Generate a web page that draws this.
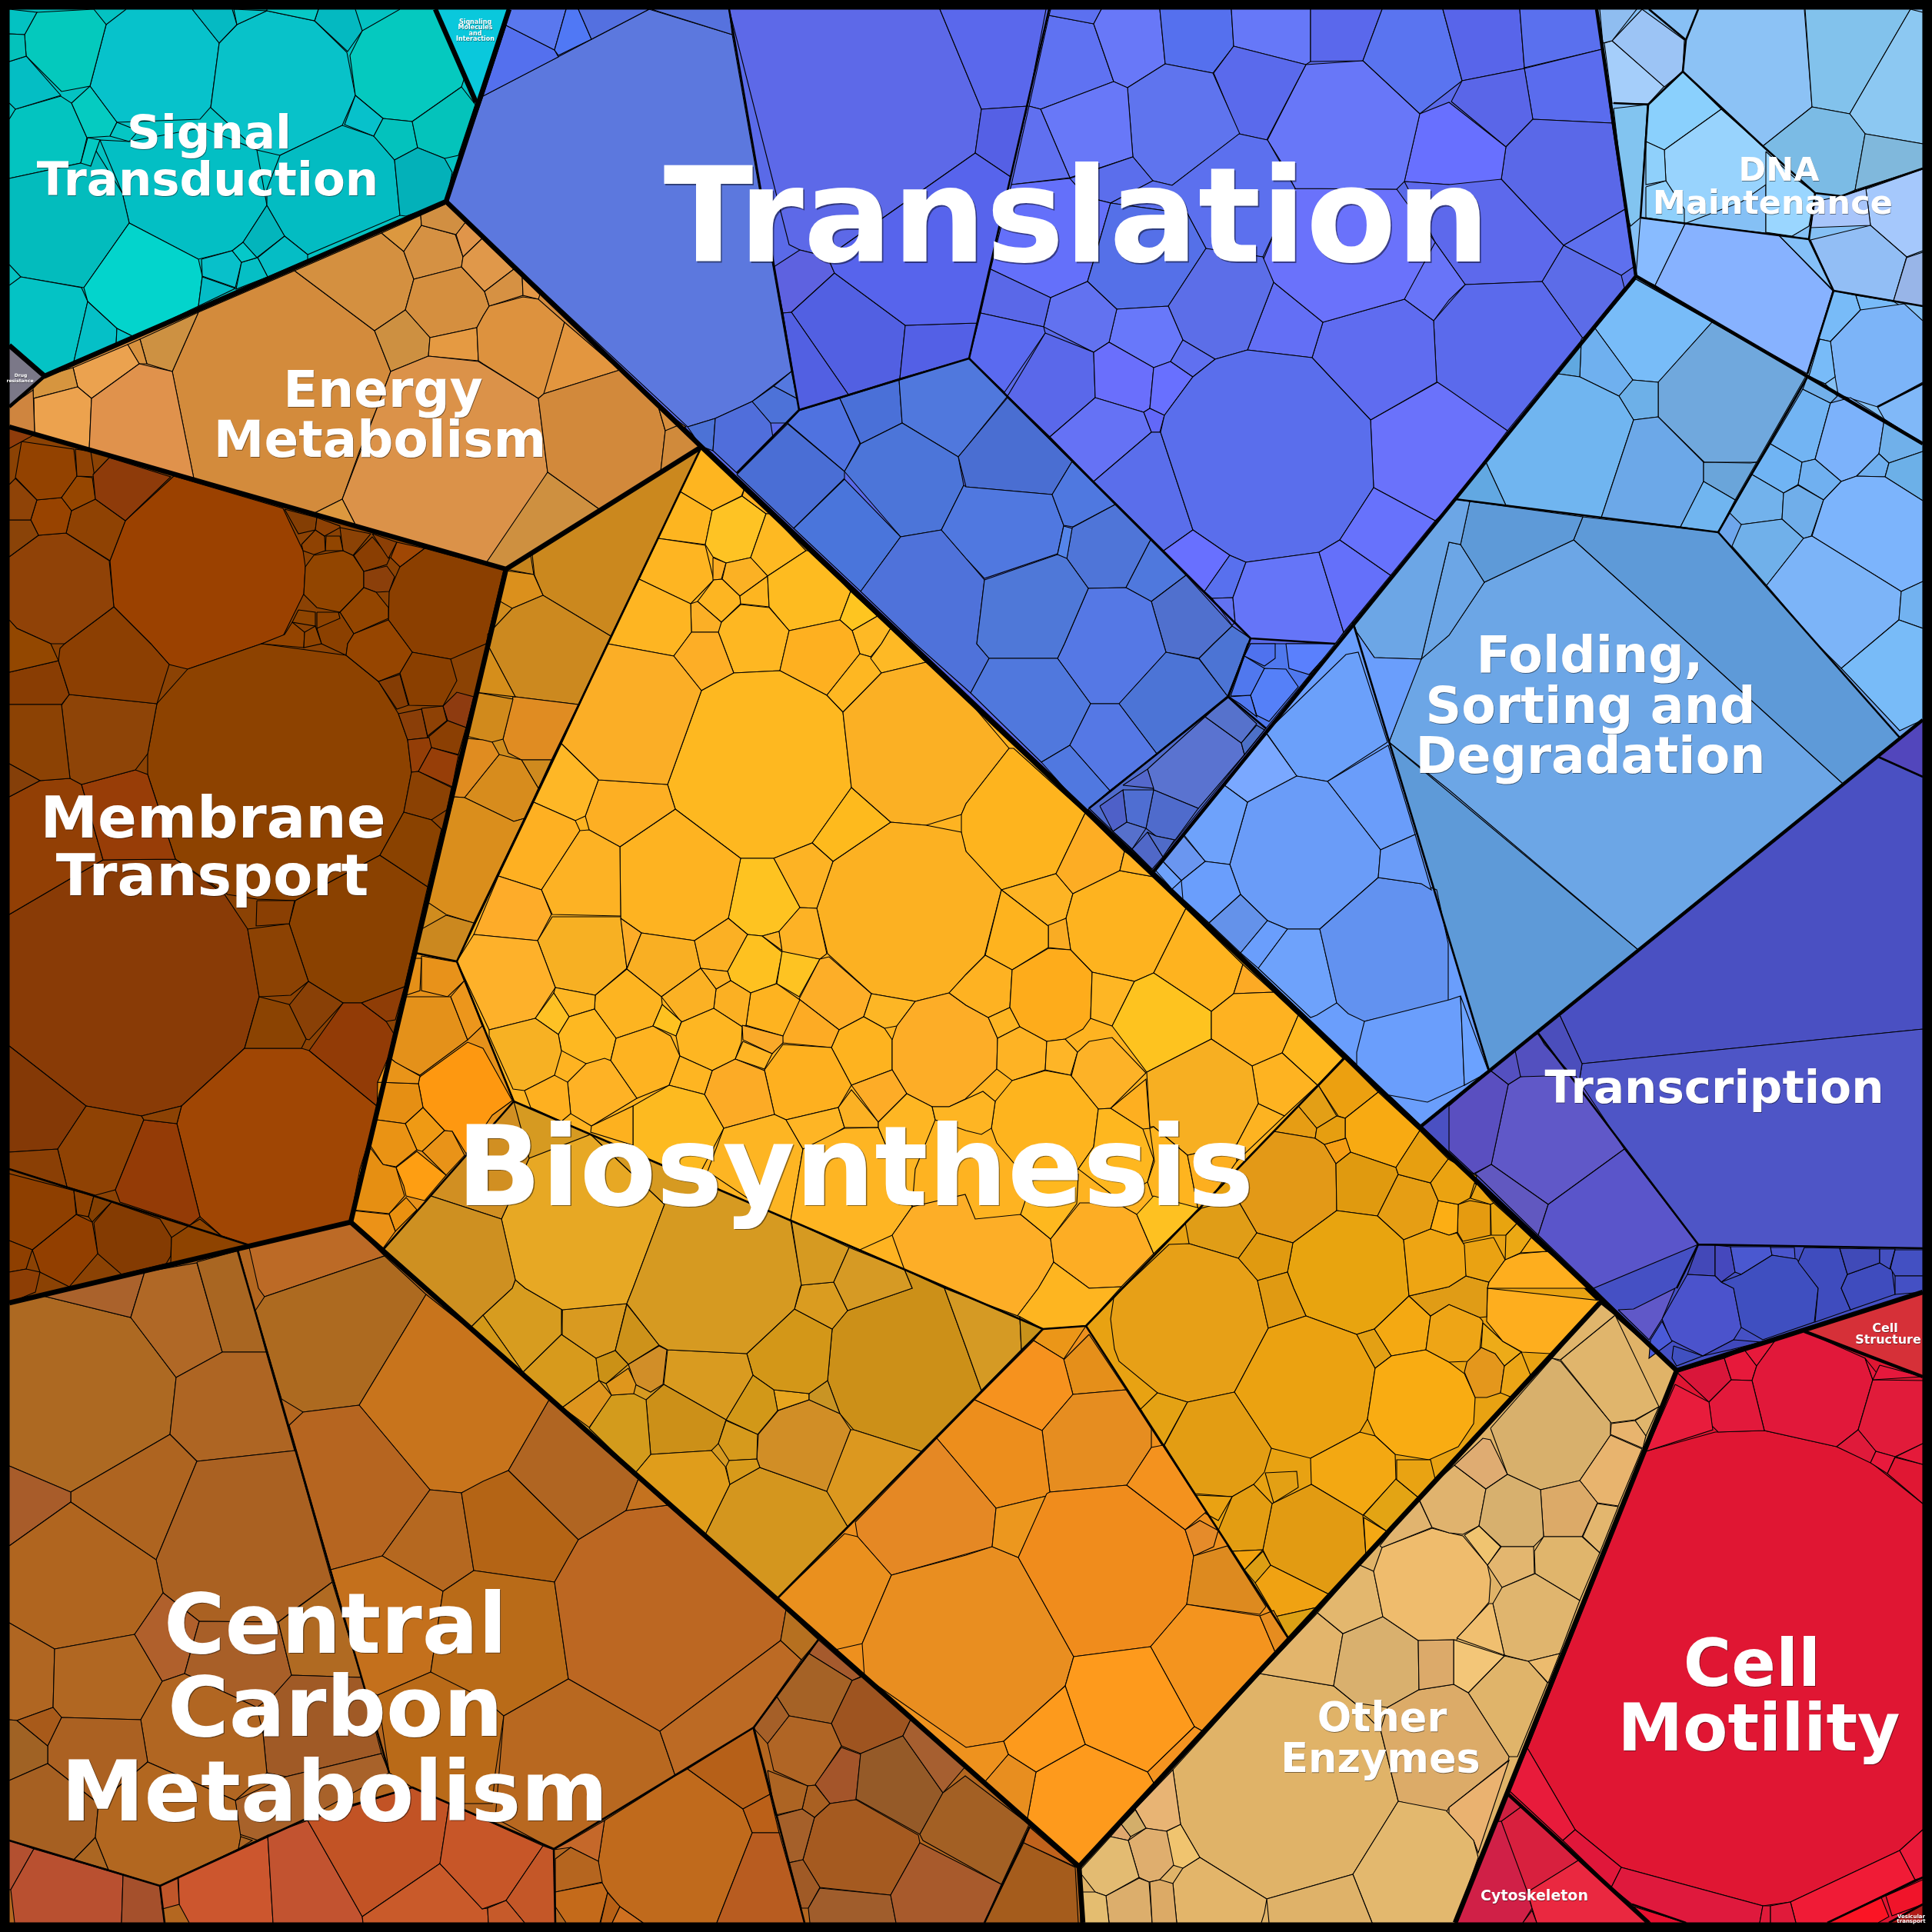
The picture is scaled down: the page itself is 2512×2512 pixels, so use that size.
<!DOCTYPE html>
<html>
<head>
    <title>Proteomap</title>
    <script src='https://cdn.jsdelivr.net/npm/chart.js'></script>
    <style>
        html, body { margin: 0; padding: 0; background: #000; }
        canvas { display: block; }
    </style>
</head>
<body>
    <canvas id="proteomap" width="2512" height="2512"></canvas>
    <script>
        const regionCells = [
            [12,12,566,12,619,133,580,262,58,489,12,449],
            [566,12,662,12,580,262,619,133],
            [12,449,58,489,12,529],
            [12,529,58,489,580,262,912,581,658,740,12,555],
            [12,555,658,740,456,1589,12,1694],
            [912,581,594,1250,540,1239,658,740],
            [540,1239,594,1250,668,1432,498,1625,456,1589],
            [912,581,1748,1376,1412,1724,1356,1728,668,1432,594,1250],
            [668,1432,1356,1728,1010,2079,498,1625],
            [1010,2079,1356,1728,1412,1724,1675,2130,1403,2427],
            [1412,1724,1748,1376,2080,1694,1675,2130],
            [12,1694,456,1589,1403,2427,1408,2500,12,2500],
            [1403,2427,2080,1694,2180,1782,1892,2500,1408,2500],
            [2180,1782,2500,1680,2500,2500,1892,2500],
            [580,262,662,12,2076,12,2127,359,1500,1133],
            [2076,12,2500,12,2500,577,2127,359],
            [2127,359,2500,577,2500,936,1848,1464,1500,1133],
            [1848,1464,2500,936,2500,1680,2180,1782]
        ];
        const regionShades = ['#04c2c2','#0ac8dc','#7b7888','#d48c3e','#8b4204','#d08c1e','#e6911a','#feb321','#d69a21','#ee901e','#e8a212','#b46720','#e0b368','#e01633','#5a6ae8','#85c0f5','#6ea6ec','#4a50c2'];

        const signalCells = [
            [138,32,164,12,250,12,285,56,274,139,260,155,152,159,117,112],
            [308,32,347,14,409,27,451,68,462,124,445,163,364,202,334,195,274,140,285,56],
            [48,16,122,12,138,32,117,112,80,119,34,73,32,45],
            [471,40,520,12,566,12,604,101,600,113,536,158,498,154,462,124,455,72],
            [409,27,414,12,462,12,471,40,452,67],
            [250,12,302,12,308,32,285,56],
            [304,12,347,14,308,32],
            [347,12,414,12,409,27,347,14],
            [20,142,79,125,93,134,113,179,105,212,12,232,12,155],
            [12,80,34,73,79,124,20,142,12,134],
            [12,12,48,16,32,45,12,44],
            [12,44,32,45,34,73,12,80],
            [93,134,117,112,152,159,143,177,113,179],
            [130,182,168,184,264,166,334,195,347,267,316,315,302,326,258,337,168,290,159,251],
            [12,232,105,212,116,182,159,251,168,290,109,374,27,360,12,344],
            [109,374,168,290,258,337,263,359,258,398,174,438,152,427,114,392],
            [27,360,106,374,114,392,96,470,58,489,12,449,12,371],
            [114,392,152,427,151,447,96,470],
            [152,427,174,438,151,447],
            [364,202,445,163,486,177,513,208,520,280,400,331,370,307,347,267,347,246],
            [462,124,498,154,486,177,448,162],
            [498,154,536,158,543,192,513,208,486,177],
            [536,158,600,113,618,136,596,202,578,206,543,192],
            [513,208,543,192,578,206,588,224,580,262,528,281,520,280],
            [347,267,370,307,334,335,316,315],
            [370,307,400,331,400,338,348,360,335,335],
            [262,337,302,326,314,341,306,374,263,359],
            [314,341,335,335,348,360,307,376],
            [263,360,306,375,258,398],
            [302,326,316,315,334,335,314,341],
            [114,179,130,182,118,216,105,212],
            [143,177,152,159,180,170,168,184]
        ];
        const signalShades = ['#07c2cb','#08c2c9','#04c9bd','#05c9bf','#04b9c1','#05bac3','#07c3c7','#07c9c6','#03c4c0','#04bec4','#03c2c2','#04c2bb','#05cbc1','#03bfc4','#03bcbd','#03d4cc','#04c3c5','#05c0c7','#04c3c8','#03bcc2','#07c1cb','#03c2bd','#04c3bb','#03b1b9','#03b5bc','#05bdc5','#08c0ca','#05bfc5','#04bcc6','#05c8c9','#03c9c2','#05c6c4'];

        const energyCells = [
            [258,406,383,352,487,430,508,483,490,531,468,585,445,649,407,668,252,622,224,483],
            [383,352,496,303,525,327,538,363,527,403,487,430],
            [496,303,547,280,548,293,525,327],
            [525,327,548,293,592,305,602,334,600,347,538,363],
            [547,280,580,265,606,288,593,305,548,293],
            [606,288,627,310,602,334,593,305],
            [538,363,600,347,630,379,636,398,628,411,620,426,559,439,527,403],
            [487,430,527,403,559,439,557,463,508,483],
            [559,439,620,426,622,469,557,463],
            [508,483,557,463,622,470,700,518,712,614,640,734,462,682,445,649,490,531],
            [407,668,445,649,462,682],
            [258,406,224,483,191,473,182,441],
            [182,441,191,473,181,473,166,448],
            [166,448,181,473,119,518,101,503,95,478],
            [95,478,101,503,43,518,43,505,58,489],
            [44,518,101,503,119,518,116,584,45,563],
            [119,518,181,473,224,483,252,622,116,584],
            [12,555,12,529,43,507,45,563],
            [600,347,602,334,627,310,668,350,630,379],
            [630,379,668,350,679,360,680,384,636,398],
            [679,360,702,383,700,389,680,384],
            [636,398,680,386,700,389,734,419,708,512,700,518,628,473,622,469,620,426,628,411],
            [734,419,806,481,707,512],
            [707,512,806,481,856,529,865,560,859,613,779,662,712,614,700,518],
            [856,529,892,555,865,560],
            [865,560,882,553,911,581,859,613],
            [712,614,779,662,658,738,632,732]
        ];
        const energyShades = ['#d38b3c','#d49040','#dc983f','#d59143','#d18f42','#e0954a','#d58f3f','#cd9041','#e59a42','#db9249','#dc983f','#cd9142','#d8923f','#eba24f','#d6953f','#eca24e','#e0924c','#cf853f','#e0984a','#d69143','#e39746','#dd923e','#e3963f','#d2893b','#d68e3d','#d08a3b','#ce9040'];

        const membraneCells = [
            [226,619,368,661,394,716,397,737,395,772,368,827,340,837,244,870,220,864,196,837,148,789,143,729,163,677],
            [244,870,340,837,450,852,492,886,518,928,530,962,535,1004,525,1056,494,1112,384,1171,334,1169,296,1163,228,1117,192,1007,192,980,204,915],
            [12,1189,94,1141,134,1118,228,1117,292,1163,322,1208,337,1296,318,1363,236,1438,184,1451,112,1438,12,1360],
            [384,1171,494,1112,556,1153,526,1283,470,1304,446,1304,401,1276,376,1201],
            [318,1363,392,1363,402,1366,490,1438,456,1589,324,1619,288,1607,260,1582,230,1461,236,1438],
            [402,1366,446,1304,470,1304,502,1328,512,1344,490,1438],
            [376,1307,401,1276,446,1304,402,1352,398,1351],
            [337,1296,376,1306,398,1351,392,1363,318,1363],
            [322,1208,376,1201,401,1276,378,1294,337,1296],
            [334,1171,383,1171,376,1201,333,1204],
            [470,1304,526,1283,514,1326,502,1328],
            [12,1036,52,1015,91,1012,106,1020,134,1118,94,1141,12,1189],
            [106,1020,176,1001,192,1007,228,1117,134,1118],
            [80,917,90,903,204,915,192,980,176,1001,106,1020,91,1012],
            [12,874,76,859,90,903,80,916,12,916],
            [12,916,80,916,91,1012,52,1015,12,993],
            [12,993,52,1015,12,1036],
            [90,903,76,859,78,843,84,837,148,789,196,837,220,864,204,915],
            [12,724,50,696,86,693,142,729,148,789,84,837,66,837,22,817,12,806],
            [12,806,22,817,66,837,76,859,12,874],
            [86,693,93,664,124,649,163,677,143,729],
            [40,676,48,650,80,647,93,664,86,693,50,696],
            [12,676,40,676,50,696,12,724],
            [12,630,20,622,48,650,40,676,12,676],
            [28,574,96,584,100,619,80,647,48,650,20,621],
            [100,619,120,621,124,649,93,664,80,647],
            [98,584,118,587,123,620,100,619],
            [142,595,222,620,163,677,124,649,121,617],
            [12,555,45,565,12,583],
            [408,722,446,716,459,722,473,743,473,764,442,796,412,790,395,773,397,737],
            [520,737,552,713,655,741,632,837,586,857,536,848,528,837,505,806,506,769],
            [520,875,536,848,586,857,594,885,576,918,532,917],
            [492,886,520,877,531,917,516,922],
            [576,918,594,900,616,906,606,946,582,937],
            [518,928,548,922,556,959,530,962],
            [548,921,576,918,581,937,556,957],
            [556,959,582,937,606,946,596,981,561,972],
            [530,962,558,959,561,972,544,1003,535,1004],
            [561,972,596,982,588,1023,544,1003],
            [535,1004,544,1003,587,1024,581,1053,561,1066,525,1056],
            [525,1056,561,1066,574,1078,556,1153,494,1112],
            [460,722,484,698,507,725,503,734,473,743],
            [442,686,482,694,459,722,446,716],
            [484,694,516,705,505,726],
            [516,705,552,713,520,737,508,725],
            [424,697,442,697,446,716,423,716],
            [392,708,410,689,422,697,423,716,408,721,394,716],
            [370,662,412,673,410,689,388,694],
            [412,673,442,684,442,686,422,697,410,689],
            [473,743,503,736,513,750,506,769,489,770,473,764],
            [442,796,473,764,489,770,505,790,505,804,460,824],
            [442,796,460,824,452,837,450,852,418,837,412,817],
            [460,824,505,806,528,837,536,848,520,875,492,886,450,852,452,837],
            [388,793,410,796,410,814,380,809],
            [412,796,440,796,442,804,412,817],
            [370,825,380,809,396,822,395,842,340,837],
            [396,822,410,814,418,837,395,842],
            [12,1360,112,1438,75,1494,12,1498],
            [112,1438,184,1451,187,1456,150,1547,124,1554,87,1543,75,1494],
            [187,1456,230,1461,260,1582,247,1593,156,1563,150,1547],
            [12,1498,75,1494,87,1543,12,1520],
            [184,1451,236,1438,230,1461,187,1456],
            [122,1590,145,1563,208,1585,223,1609,222,1633,216,1643,158,1657,127,1630],
            [42,1625,99,1579,120,1589,127,1630,90,1673,52,1654],
            [12,1526,96,1548,99,1579,42,1625,12,1613],
            [12,1613,42,1625,34,1650,12,1654],
            [12,1654,34,1650,52,1654,46,1680,12,1694],
            [223,1609,247,1593,260,1585,288,1607,324,1619,222,1643],
            [96,1548,122,1555,115,1582,100,1579],
            [122,1555,145,1563,120,1589,115,1582]
        ];
        const membraneShades = ['#9b4100','#8d4200','#893b06','#8a4100','#a04604','#923b06','#894006','#8b4302','#8c4203','#8a3f03','#8f3d06','#923f05','#983d07','#8e4407','#893d03','#8c4204','#853f09','#8c3f02','#904207','#934700','#8f4203','#984300','#8a4308','#8f4307','#934200','#964600','#8f4204','#8e3b0a','#8f3c0b','#924500','#8b3f00','#8a3f00','#843c04','#8e3b10','#8a3e08','#8e4105','#8b3f03','#943e07','#973e08','#8b4103','#8a4200','#8a3e02','#8b4205','#8c3f05','#a04704','#914500','#8f4202','#843e04','#8e4104','#8b3f0a','#934500','#8b4000','#964500','#8e4400','#8d4200','#944400','#8f4300','#843906','#8f4204','#943b06','#8a3f05','#8c4204','#843b02','#923f00','#8e3f00','#8e3f00','#8d3e05','#8e4300','#8d4102','#833f02'];

        const stripCells = [
            [692,721,912,582,794,827,706,774,695,748],
            [658,740,690,722,694,747],
            [658,742,694,747,706,774,666,791,647,780],
            [666,791,706,774,794,827,752,916,670,906,636,842,634,825],
            [670,906,752,916,717,988,678,988,661,979,654,961,667,906],
            [618,900,667,909,654,961,639,965,606,957],
            [636,842,670,906,618,900],
            [678,988,717,988,700,1025],
            [604,1037,649,981,678,988,700,1025,682,1064,668,1068],
            [606,960,628,962,640,965,649,981,604,1037,590,1036,597,985],
            [590,1036,604,1037,668,1068,682,1064,616,1200,580,1189,556,1173],
            [580,1190,616,1200,594,1250,540,1239,548,1208]
        ];
        const stripShades = ['#cb881e','#c6841d','#db901c','#cc891f','#e08c22','#d18a1c','#d58e1b','#cf8a1e','#d78c1d','#e08c20','#da8e1c','#cb881f'];

        const smallOrangeCells = [
            [548,1243,594,1251,604,1275,582,1296,548,1288],
            [528,1294,546,1288,548,1246,538,1246,527,1286],
            [528,1296,586,1296,608,1352,546,1398,514,1382,506,1374,524,1307],
            [586,1296,604,1275,627,1334,608,1352],
            [546,1400,608,1355,628,1363,666,1431,640,1450,606,1500,588,1471,578,1470,550,1440,544,1408],
            [491,1407,544,1409,550,1440,527,1461,490,1456],
            [514,1381,546,1399,544,1409,491,1407,505,1374],
            [527,1461,550,1440,578,1470,549,1497,542,1495],
            [490,1456,527,1461,542,1495,515,1517,498,1514,480,1487],
            [549,1497,578,1470,588,1471,604,1502,580,1528],
            [515,1518,542,1497,580,1528,552,1561,528,1555,525,1542],
            [478,1488,498,1514,515,1518,526,1555,506,1578,458,1573,468,1520],
            [506,1578,528,1557,542,1573,514,1601],
            [458,1574,506,1579,514,1601,498,1623,456,1589]
        ];
        const smallOrangeShades = ['#e8921a','#e59018','#e4911a','#ec961c','#fe9810','#e68f13','#e99419','#ef9a14','#ea9314','#e99318','#fe9e12','#e68f12','#ea9110','#ec9217'];

        const yellowCells = [
            [912,582,968,635,964,645,926,664,884,639],
            [884,639,926,664,917,708,856,700],
            [926,664,965,645,996,668,976,725,944,732,927,724,917,708],
            [968,635,1002,668,996,668,965,645],
            [996,668,1002,668,1048,716,998,749,976,725],
            [856,700,917,709,928,754,898,785,831,753],
            [927,725,944,732,938,753,928,754],
            [944,732,976,725,998,749,962,775,939,753],
            [928,754,939,753,962,775,963,785,938,809,907,782],
            [998,749,1000,789,963,785,962,775],
            [998,749,1048,716,1056,716,1106,769,1092,806,1026,820,1000,789],
            [1106,769,1141,801,1108,820,1092,806],
            [1141,801,1158,817,1146,837,1132,854,1118,850,1108,820],
            [898,785,907,782,938,809,936,822,899,822],
            [831,753,898,785,899,822,888,837,876,853,790,837],
            [938,809,963,786,1000,790,1026,820,1014,872,954,875,934,822],
            [899,822,934,822,954,875,912,898,876,853],
            [1026,820,1092,806,1108,820,1118,850,1075,904,1014,872],
            [1118,850,1132,854,1146,875,1096,926,1075,904],
            [1146,837,1158,817,1204,861,1146,875,1132,856],
            [868,1020,912,898,954,875,1014,872,1075,904,1096,926,1107,1024,1056,1096,1006,1116,963,1116,878,1052],
            [1096,926,1146,875,1204,861,1255,906,1312,973,1256,1045,1250,1059,1204,1073,1158,1069,1107,1024],
            [1312,973,1318,973,1411,1057,1373,1136,1302,1157,1256,1107,1250,1085,1250,1059,1256,1045],
            [1158,1069,1204,1073,1250,1082,1256,1107,1302,1157,1280,1243,1256,1267,1234,1291,1190,1302,1133,1292,1076,1240,1062,1181,1083,1120],
            [1056,1096,1107,1024,1158,1069,1083,1120],
            [1006,1116,1056,1096,1083,1120,1062,1181,1040,1180],
            [963,1116,1006,1116,1040,1180,1013,1211,991,1217,972,1215,947,1194],
            [806,1101,878,1052,963,1116,947,1194,903,1223,834,1213,807,1194],
            [778,1014,868,1020,878,1052,806,1101,766,1079,761,1061],
            [790,837,876,853,912,898,868,1020,778,1014,730,967],
            [730,967,778,1014,761,1061,748,1067,694,1043],
            [694,1043,748,1067,754,1080,704,1157,648,1139],
            [754,1080,766,1079,806,1101,807,1191,718,1189,704,1157],
            [648,1139,704,1157,717,1189,699,1223,616,1215],
            [699,1223,718,1192,807,1192,815,1259,774,1294,722,1284],
            [616,1215,699,1223,722,1284,696,1324,636,1339,594,1250],
            [807,1194,834,1213,815,1259],
            [834,1213,903,1223,911,1259,860,1296,815,1260],
            [903,1223,947,1194,972,1215,946,1263,911,1259],
            [972,1215,991,1217,1017,1238,1009,1279,976,1291,950,1275,946,1263],
            [1017,1236,1066,1247,1039,1296,1010,1279],
            [991,1217,1013,1211,1017,1236],
            [1013,1211,1040,1180,1062,1181,1075,1240,1066,1247,1017,1237],
            [1039,1299,1066,1247,1078,1244,1133,1292,1123,1322,1091,1339],
            [1133,1292,1190,1302,1166,1334,1150,1337,1123,1322],
            [1091,1339,1123,1322,1150,1337,1160,1352,1160,1391,1107,1411,1081,1362],
            [1166,1334,1190,1302,1234,1291,1256,1307,1285,1323,1297,1350,1296,1390,1255,1429,1234,1439,1212,1439,1179,1422,1160,1391,1160,1352],
            [1017,1347,1039,1299,1091,1339,1081,1362,1018,1356],
            [976,1291,1010,1279,1040,1300,1018,1347,970,1333],
            [950,1275,976,1291,970,1333,965,1335,928,1311,931,1286],
            [911,1259,946,1263,950,1275,931,1286],
            [860,1296,911,1259,931,1286,928,1311,886,1329],
            [774,1294,815,1260,860,1296,861,1306,849,1334,801,1350,773,1312],
            [861,1306,886,1328,879,1347,849,1334],
            [722,1284,774,1294,773,1312,740,1322,720,1291],
            [696,1324,720,1291,740,1322,726,1345],
            [726,1345,740,1322,773,1312,801,1350,794,1379,762,1383,730,1366],
            [636,1339,696,1324,726,1345,730,1367,721,1398,682,1418,667,1416,636,1347],
            [801,1350,849,1334,872,1347,884,1373,870,1411,828,1428,794,1379],
            [879,1347,886,1329,928,1311,965,1335,964,1355,956,1377,926,1392,884,1373],
            [965,1333,1018,1347,1018,1356,1004,1370,966,1352],
            [966,1354,1004,1370,994,1390,956,1377],
            [994,1391,1018,1358,1081,1362,1107,1411,1090,1440,1022,1456,1007,1449],
            [916,1423,926,1392,956,1377,994,1392,1007,1449,941,1467],
            [870,1411,884,1373,926,1392,916,1423],
            [823,1438,870,1411,916,1423,941,1467,905,1535,823,1498],
            [738,1407,762,1383,786,1376,794,1379,828,1428,769,1464,742,1448],
            [682,1418,721,1398,738,1407,742,1448,730,1458,690,1440],
            [769,1464,823,1438,823,1489,768,1472],
            [941,1467,1007,1449,1022,1456,1044,1494,1028,1587,996,1574,920,1523],
            [1022,1456,1090,1440,1098,1466,1064,1486,1044,1494],
            [1090,1440,1107,1417,1142,1459,1142,1466,1098,1466],
            [1107,1411,1160,1391,1179,1422,1142,1459],
            [1028,1587,1044,1494,1098,1467,1142,1466,1186,1569,1160,1606,1118,1625],
            [1160,1606,1186,1569,1255,1553,1268,1585,1327,1579,1366,1611,1370,1641,1350,1675,1322,1712,1256,1686,1230,1675,1176,1651],
            [1179,1422,1212,1439,1216,1456,1190,1520,1186,1569,1142,1466,1142,1459],
            [1302,1157,1373,1136,1395,1162,1386,1194,1363,1204],
            [1373,1136,1411,1057,1462,1107,1456,1132,1395,1162],
            [1395,1162,1456,1132,1500,1140,1542,1181,1500,1265,1475,1276,1420,1264,1392,1235,1386,1194],
            [1462,1107,1498,1131,1500,1140,1456,1132],
            [1363,1203,1386,1194,1392,1235,1363,1232],
            [1302,1157,1363,1204,1363,1232,1316,1261,1281,1242],
            [1234,1291,1256,1267,1281,1242,1316,1261,1313,1310,1285,1323,1256,1307],
            [1316,1261,1363,1233,1392,1235,1420,1264,1418,1324,1408,1338,1385,1351,1361,1354,1326,1335,1313,1310],
            [1285,1323,1313,1310,1326,1335,1297,1350],
            [1297,1350,1326,1335,1361,1354,1359,1391,1316,1405,1296,1390],
            [1361,1354,1385,1351,1401,1368,1392,1398,1359,1391],
            [1420,1264,1475,1276,1446,1334,1418,1324],
            [1500,1265,1542,1181,1616,1254,1604,1292,1575,1315],
            [1604,1292,1616,1254,1656,1290],
            [1446,1334,1475,1276,1500,1265,1575,1315,1575,1351,1491,1394],
            [1575,1315,1604,1292,1656,1290,1688,1320,1667,1369,1628,1386,1575,1351],
            [1688,1320,1746,1376,1713,1411,1667,1369],
            [1667,1369,1713,1411,1670,1451,1636,1435,1628,1386],
            [1491,1394,1575,1351,1628,1386,1636,1435,1608,1488,1544,1502,1500,1465,1495,1465],
            [1636,1435,1670,1451,1608,1510,1608,1488],
            [1444,1441,1490,1403,1495,1467,1486,1468],
            [1393,1399,1401,1368,1416,1354,1446,1349,1490,1395,1444,1441,1428,1442],
            [1316,1405,1359,1392,1392,1398,1428,1442,1422,1491,1402,1520,1334,1531,1296,1486,1289,1467,1294,1432],
            [1234,1439,1256,1429,1278,1419,1294,1432,1289,1467,1276,1475,1256,1470,1216,1456,1212,1439],
            [1422,1491,1428,1442,1444,1441,1486,1468,1500,1507,1492,1537,1452,1558,1402,1520],
            [1495,1467,1500,1465,1544,1502,1558,1573,1498,1555,1492,1537,1501,1510],
            [1544,1502,1608,1488,1608,1510,1580,1550,1558,1573],
            [1342,1535,1402,1527,1400,1565,1366,1611,1327,1579],
            [1366,1611,1404,1564,1452,1564,1478,1579,1500,1630,1458,1673,1416,1675,1370,1641],
            [1478,1579,1500,1555,1560,1571,1500,1630],
            [1322,1712,1350,1675,1370,1641,1416,1675,1458,1673,1412,1724,1356,1728]
        ];
        const yellowShades = ['#feb520','#fdb520','#fec324','#fdb020','#feb922','#feb522','#fbac24','#fbb124','#fdb522','#fdb520','#febb20','#fec520','#feb925','#fbaf26','#feb522','#feb722','#fdae26','#feb020','#feb722','#feb925','#feb820','#fbb024','#feb41e','#fcb122','#feba1d','#fdb324','#fec321','#feb321','#fdaf23','#fbae26','#feb726','#feb022','#fdb224','#feac29','#f7b023','#feb12a','#fcac28','#f9af23','#fbb024','#fec120','#fec322','#fbb325','#fdb225','#fdae28','#fdb625','#feb31f','#fdad27','#fdab24','#feb320','#fbb023','#fcb124','#fbb124','#fdb421','#fec120','#fdb624','#fec125','#feb821','#f7b123','#feb321','#feb622','#f9a929','#feb525','#feb01f','#fcab26','#feb522','#fdba20','#feb225','#feb020','#fdb11f','#fdb523','#feb525','#fbb124','#fdac27','#feb523','#fdae27','#feb623','#fdb424','#fdad24','#feb31f','#feb123','#f9ac24','#feb31e','#feb222','#feac1b','#fdb523','#feb324','#feb527','#feb624','#feb31f','#fcaa25','#fec31f','#feb221','#feb81f','#feb321','#f7af22','#fdb321','#feaf20','#fdb227','#feb41e','#feb523','#feb71f','#feb41f','#fdaf1f','#feb81f','#fdad24','#fec121','#feb520'];

        const darkYellowCells = [
            [1082,1728,1102,1704,1186,1675,1176,1651,1228,1675,1256,1752,1276,1808,1256,1830,1198,1887,1110,1859,1092,1838,1076,1795],
            [1228,1675,1256,1686,1326,1712,1328,1755,1276,1808,1256,1752],
            [1326,1712,1356,1728,1328,1755],
            [1110,1859,1198,1887,1102,1985,1074,1939,1106,1859],
            [988,1908,1075,1939,1102,1985,1010,2079,917,1995,949,1930],
            [986,1865,1012,1834,1052,1820,1092,1838,1106,1859,1075,1939,988,1908,984,1897],
            [1006,1807,1052,1812,1052,1820,1011,1834],
            [1052,1812,1076,1795,1092,1838,1052,1820],
            [971,1760,1033,1702,1082,1728,1076,1795,1052,1812,1006,1807,979,1788],
            [944,1846,979,1788,1006,1807,1011,1834,985,1865],
            [868,1755,971,1760,979,1788,944,1846,863,1800],
            [840,1820,863,1800,944,1846,934,1877,925,1886,846,1891],
            [934,1877,944,1847,985,1865,984,1897,948,1899],
            [846,1891,925,1886,943,1907,949,1930,917,1995,826,1915],
            [948,1899,984,1897,988,1908,949,1930,944,1907],
            [766,1857,794,1814,824,1812,840,1820,846,1891,826,1915],
            [731,1830,779,1795,795,1814,766,1856],
            [680,1784,730,1735,775,1766,779,1795,731,1830],
            [731,1703,815,1695,800,1756,775,1766,730,1735],
            [800,1756,815,1696,857,1749,817,1774],
            [817,1774,857,1750,867,1755,862,1800,846,1810,826,1800],
            [775,1766,800,1756,817,1774,788,1799,779,1795],
            [788,1799,817,1779,827,1800,824,1812,795,1814],
            [1042,1671,1084,1667,1102,1704,1082,1728,1033,1702],
            [628,1710,666,1675,670,1664,683,1675,731,1703,730,1735,680,1784],
            [652,1585,688,1506,768,1475,864,1566,823,1675,815,1695,731,1703,683,1675,670,1664],
            [768,1475,1028,1587,1042,1670,1040,1675,1033,1702,971,1760,868,1755,857,1749,815,1695,823,1675,864,1566],
            [1029,1587,1104,1622,1084,1667,1042,1671],
            [1104,1622,1176,1651,1186,1675,1102,1704,1084,1667],
            [606,1502,668,1432,688,1506,652,1585,560,1555],
            [498,1625,560,1555,652,1585,670,1664,666,1675,628,1710,612,1726],
            [612,1726,628,1710,680,1784]
        ];
        const darkYellowShades = ['#cc9018','#d59a24','#c8921a','#dc981f','#d4961e','#d18e26','#e7a51e','#c99424','#d39718','#d29818','#d99b20','#cc9018','#d69a1c','#e09d1b','#d79a1a','#d39b1c','#de951e','#d79a1c','#d99a20','#cd921a','#d18e28','#cb9116','#df961c','#da9c20','#d79c1f','#e7a824','#d69a21','#d69a21','#d69a24','#d18f22','#ce9021','#d39818'];

        const amberCells = [
            [1748,1376,1792,1420,1749,1454,1740,1451,1714,1411],
            [1749,1454,1792,1420,1846,1470,1815,1518,1756,1498,1749,1480],
            [1688,1438,1714,1411,1738,1451,1712,1467],
            [1656,1471,1688,1438,1712,1467,1710,1480],
            [1656,1471,1710,1480,1722,1488,1737,1513,1738,1574,1681,1616,1634,1603,1608,1558,1608,1521],
            [1737,1513,1756,1498,1815,1518,1818,1527,1791,1581,1738,1574],
            [1722,1488,1750,1480,1756,1498,1737,1513],
            [1712,1467,1738,1451,1749,1454,1749,1480,1722,1488,1710,1480],
            [1818,1527,1860,1538,1870,1561,1860,1598,1825,1612,1791,1581],
            [1815,1518,1846,1470,1883,1507,1860,1538,1818,1527],
            [1681,1616,1738,1574,1791,1581,1825,1612,1832,1685,1787,1728,1764,1735,1698,1711,1682,1675,1674,1654],
            [1610,1636,1634,1603,1681,1616,1674,1654,1635,1665],
            [1541,1589,1562,1571,1608,1558,1634,1603,1610,1636,1546,1617],
            [1444,1715,1448,1688,1460,1675,1520,1618,1546,1617,1610,1636,1635,1665,1649,1727,1605,1810,1544,1823,1505,1811,1455,1770,1449,1754],
            [1635,1665,1674,1654,1682,1675,1698,1711,1649,1727],
            [1698,1711,1764,1735,1788,1779,1778,1845,1768,1862,1704,1896,1653,1883,1605,1810,1649,1727],
            [1764,1735,1787,1728,1809,1763,1788,1779],
            [1787,1728,1832,1685,1860,1711,1854,1755,1809,1763],
            [1788,1779,1809,1763,1854,1755,1884,1771,1904,1786,1918,1817,1916,1851,1896,1881,1858,1898,1814,1891,1788,1867,1778,1845],
            [1704,1896,1768,1862,1788,1867,1814,1891,1815,1923,1772,1970,1705,1930],
            [1505,1811,1544,1823,1512,1881,1498,1859,1483,1832],
            [1544,1823,1605,1810,1653,1883,1644,1914,1630,1930,1602,1946,1554,1942,1514,1879],
            [1645,1915,1686,1913,1688,1934,1656,1954],
            [1654,1955,1705,1930,1772,1970,1776,2022,1728,2073,1652,2035,1642,2015],
            [1602,1946,1630,1930,1654,1955,1642,2015,1602,2017,1584,1990],
            [1554,1944,1602,1946,1584,1977,1564,1966],
            [1652,2035,1728,2073,1712,2090,1658,2102,1632,2058],
            [1618,2041,1642,2017,1652,2035,1632,2058],
            [1658,2102,1712,2090,1676,2130],
            [1602,2017,1642,2015,1618,2041],
            [1773,1970,1815,1923,1844,1947,1803,1991],
            [1773,1973,1803,1991,1776,2022],
            [1815,1923,1816,1898,1860,1898,1866,1923,1844,1947],
            [1926,1752,1944,1760,1956,1776,1951,1811,1933,1817,1918,1817,1904,1784,1908,1768],
            [1956,1776,1978,1758,1990,1788,1966,1817,1951,1811],
            [1928,1720,1954,1744,1978,1758,1956,1776,1944,1760,1926,1752],
            [1860,1711,1884,1696,1924,1713,1928,1718,1927,1728,1924,1754,1908,1770,1884,1771,1854,1755],
            [1934,1675,2080,1691,2016,1760,1979,1758,1954,1744,1933,1718],
            [1832,1685,1884,1673,1906,1659,1936,1667,1934,1675,1933,1712,1924,1713,1884,1696,1860,1711],
            [1911,1561,1938,1566,1938,1606,1902,1614,1895,1602,1896,1566],
            [1900,1617,1942,1609,1957,1638,1936,1667,1906,1659],
            [1938,1566,1942,1564,1972,1591,1958,1606,1939,1606],
            [1912,1558,1920,1539,1942,1564,1938,1566],
            [1936,1667,1957,1638,1976,1630,2012,1627,2070,1675,1934,1675],
            [1958,1606,1972,1591,1991,1609,1977,1629,1957,1638],
            [1977,1629,1991,1609,2011,1627],
            [1870,1561,1896,1566,1895,1602,1884,1606,1860,1598],
            [1883,1507,1920,1529,1911,1558,1896,1566,1870,1561,1860,1538],
            [1825,1612,1860,1598,1884,1606,1894,1603,1904,1619,1906,1659,1884,1673,1832,1685]
        ];
        const amberShades = ['#eca010','#f8aa12','#e39f16','#e69d14','#e39917','#e09a0f','#f59d14','#e69e10','#e69e14','#e79f10','#e8a40f','#e09a10','#e09d17','#e7a017','#e09a12','#eba211','#e3a014','#f4a912','#f9ac12','#f3a812','#e4a214','#e39d13','#e3a014','#e29b12','#e39d12','#eaa212','#f0a212','#dc9e14','#dca014','#f2a20e','#e3a414','#f4a814','#e9a312','#e4971c','#eba516','#edab18','#eea516','#feae1e','#e09c16','#e59b10','#eaa212','#e8a40f','#eaa412','#feae1e','#eba814','#f6ab16','#fcae14','#eba311','#eea513'];

        const orangeCells = [
            [1356,1728,1412,1724,1383,1767,1344,1743],
            [1416,1735,1464,1807,1395,1813,1383,1768],
            [1344,1743,1383,1767,1395,1813,1355,1860,1267,1820],
            [1395,1813,1464,1807,1497,1858,1497,1882,1465,1931,1365,1940,1355,1860],
            [1218,1870,1267,1820,1355,1860,1365,1940,1361,1945,1295,1961],
            [1112,1979,1218,1870,1295,1961,1290,2011,1159,2048,1115,1998],
            [1010,2079,1098,1994,1115,1998,1159,2048,1121,2137,1086,2145,1064,2130],
            [1121,2137,1159,2048,1256,2022,1290,2011,1324,2025,1396,2154,1385,2192,1305,2264,1256,2272,1244,2273,1124,2180],
            [1295,1961,1361,1945,1324,2025,1290,2011],
            [1361,1942,1365,1940,1465,1931,1541,1989,1552,2023,1543,2086,1496,2141,1396,2154,1324,2025],
            [1465,1931,1497,1882,1512,1879,1568,1966,1541,1989],
            [1541,1989,1560,1977,1584,1990,1578,2011,1552,2023],
            [1552,2023,1596,2010,1646,2089,1638,2099,1543,2086],
            [1543,2086,1638,2101,1658,2148,1564,2251,1553,2245,1496,2141],
            [1638,2101,1656,2094,1675,2130,1658,2148],
            [1396,2154,1496,2141,1553,2245,1492,2304,1411,2268,1385,2192],
            [1564,2251,1501,2320,1492,2304,1553,2245],
            [1411,2268,1492,2304,1501,2320,1403,2427,1335,2369,1347,2304],
            [1305,2264,1385,2192,1411,2268,1347,2304,1311,2281],
            [1281,2316,1311,2281,1347,2304,1335,2369],
            [1124,2180,1256,2272,1305,2264,1311,2281,1281,2316]
        ];
        const orangeShades = ['#eb9618','#e58f1a','#f6921e','#e68d20','#ed8e1c','#e58824','#ea901e','#e98e20','#ec971e','#f08c1c','#f4921e','#e58b2a','#dd8a1f','#f4941e','#e68c1f','#fe9a1c','#f49320','#fe9a1c','#fd9a1c','#e88e1f','#ee921e'];

        const carbonCells = [
            [12,1694,56,1685,170,1713,229,1791,221,1865,92,1940,12,1906],
            [56,1685,90,1675,188,1654,170,1713],
            [170,1713,188,1654,256,1642,289,1758,229,1791],
            [256,1641,310,1626,346,1758,289,1758],
            [229,1791,289,1758,346,1758,383,1886,256,1900,221,1865],
            [92,1940,221,1865,256,1900,203,2028,92,1953],
            [256,1900,384,1886,432,2057,388,2089,362,2109,259,2108,212,2071,203,2028],
            [12,1906,92,1940,92,1953,12,2010],
            [12,2010,92,1953,203,2028,212,2071,175,2125,71,2144,12,2110],
            [12,2110,71,2144,69,2220,22,2237,12,2236],
            [71,2144,175,2125,211,2186,183,2236,80,2233,69,2220],
            [175,2125,212,2071,259,2108,240,2176,211,2186],
            [259,2108,362,2109,379,2178,356,2204,334,2220,240,2176],
            [362,2109,432,2057,470,2181,379,2178],
            [379,2178,470,2181,496,2280,372,2310,347,2305,342,2254,356,2204],
            [372,2310,496,2280,506,2305,396,2366,336,2393,312,2385,306,2341],
            [183,2236,211,2186,240,2176,334,2220,342,2254,347,2305,306,2341,192,2291],
            [80,2233,183,2236,192,2291,128,2345,62,2293,62,2270],
            [12,2236,22,2237,62,2270,62,2293,12,2315],
            [22,2237,69,2220,80,2233,62,2270],
            [12,2315,62,2293,128,2345,124,2389,96,2418,12,2393],
            [124,2389,141,2431,96,2418],
            [128,2345,192,2291,306,2341,313,2388,310,2404,208,2452,141,2431,124,2389],
            [313,2388,328,2393,310,2404],
            [232,2441,348,2386,355,2500,246,2500,233,2476],
            [348,2386,400,2367,471,2492,472,2500,355,2500],
            [400,2367,536,2324,584,2345,572,2423,471,2492],
            [471,2492,572,2423,627,2482,634,2481,635,2500,472,2500],
            [584,2345,706,2400,658,2471,627,2482,572,2423],
            [706,2400,720,2405,722,2500,682,2500,658,2471],
            [634,2481,658,2471,682,2500,635,2500],
            [12,2393,44,2404,14,2457,12,2457],
            [44,2404,160,2438,158,2500,19,2500,14,2457],
            [160,2438,208,2452,214,2500,158,2500],
            [208,2452,231,2441,233,2476,211,2482],
            [324,1622,456,1589,500,1633,344,1686,336,1675],
            [332,1704,344,1686,500,1633,554,1683,467,1827,394,1836,366,1819],
            [554,1683,628,1742,714,1820,661,1912,600,1941,559,1937,467,1827],
            [661,1912,714,1820,830,1923,814,1964,752,2002],
            [376,1853,394,1836,467,1827,559,1937,497,2023,430,2041],
            [497,2023,559,1937,600,1941,616,2042,576,2069],
            [600,1941,628,1926,661,1912,752,2002,721,2057,616,2042],
            [430,2041,497,2023,576,2069,560,2174,491,2204,474,2196],
            [576,2069,616,2042,721,2057,739,2183,655,2231,560,2174],
            [491,2204,560,2174,628,2208,655,2231,644,2305,640,2345,584,2345,536,2324,506,2305],
            [752,2002,814,1964,868,1957,1010,2081,1022,2093,1015,2133,858,2251,739,2183,721,2057],
            [814,1964,830,1923,868,1957],
            [655,2231,739,2183,858,2251,878,2309,720,2405,644,2364],
            [858,2251,1015,2133,1042,2158,980,2246,878,2309],
            [1022,2093,1064,2132,1042,2158,1015,2133],
            [786,2367,878,2309,894,2300,966,2352,978,2383,932,2500,836,2500,806,2479,790,2460,782,2447,778,2420],
            [894,2300,979,2247,1001,2333,966,2352],
            [966,2352,1001,2333,1013,2383,978,2383],
            [978,2383,1013,2383,1046,2500,932,2500],
            [720,2405,742,2393,786,2367,778,2420,742,2402],
            [722,2417,742,2402,778,2420,783,2447,722,2460],
            [722,2460,783,2448,790,2461,780,2500,736,2500,722,2479],
            [790,2461,806,2479,796,2500,781,2500],
            [806,2479,836,2500,796,2500],
            [1052,2150,1064,2132,1119,2180,1108,2185],
            [1010,2206,1052,2150,1108,2185,1081,2241,1026,2231],
            [1081,2241,1108,2185,1121,2180,1184,2236,1174,2257,1119,2280,1094,2270],
            [980,2247,1010,2206,1026,2231,998,2267],
            [998,2267,1026,2231,1081,2241,1094,2270,1060,2321,1050,2322,1006,2302],
            [1060,2320,1094,2272,1119,2281,1113,2340,1079,2345],
            [1119,2280,1174,2257,1226,2331,1196,2385,1113,2339],
            [1184,2236,1255,2297,1226,2331,1174,2257],
            [1196,2385,1226,2331,1255,2309,1338,2372,1302,2450,1200,2393],
            [1059,2363,1079,2345,1113,2340,1194,2386,1196,2396,1158,2464,1066,2454,1044,2418],
            [1050,2322,1060,2321,1079,2345,1059,2363,1043,2352],
            [998,2302,1050,2322,1043,2352,1008,2360],
            [1010,2361,1043,2352,1059,2363,1044,2418,1025,2422],
            [1026,2422,1044,2418,1066,2454,1051,2481,1042,2481],
            [1051,2481,1066,2455,1158,2464,1165,2500,1053,2500],
            [1158,2464,1196,2396,1302,2450,1280,2500,1165,2500],
            [1331,2396,1398,2428,1402,2500,1280,2500],
            [1338,2375,1400,2428,1331,2396]
        ];
        const carbonShades = ['#ad6922','#aa622c','#b06826','#a96622','#ae6523','#ae6420','#aa6122','#a85c2a','#b0651f','#b06622','#b16722','#b0602c','#a85f28','#b06a22','#a05a26','#a8622a','#b16622','#ab6122','#a06224','#a85a1a','#a66022','#ab6622','#b26720','#ab6422','#cc562e','#c25330','#c25325','#c95a2a','#c75628','#c45728','#c65a2a','#b35030','#b95030','#a5502c','#c0562a','#bc6a26','#ad6a20','#c8741c','#b06522','#b66520','#b56820','#b46415','#c4701c','#b96b18','#b96a18','#bc6722','#c4721f','#b86820','#bc6a24','#b67020','#c06a1c','#b66018','#bb6018','#b85c20','#c5682a','#b5651f','#c46a1a','#b86015','#cf7020','#a55a2d','#a56226','#9e5420','#a55f28','#b06525','#a4552a','#955a28','#a65f30','#a36024','#a55a20','#a96022','#ad6423','#a5602a','#a05a26','#a05d2c','#a85a2c','#a55c1c','#c0621c'];

        const enzymeCells = [
            [1525,2301,1638,2176,1734,2192,1761,2214,1795,2249,1818,2342,1759,2437,1647,2469,1560,2415,1535,2372],
            [1638,2176,1713,2097,1746,2124,1734,2192],
            [1746,2124,1798,2102,1844,2133,1845,2197,1804,2220,1761,2214,1734,2192],
            [1713,2097,1768,2035,1786,2043,1798,2102,1746,2124],
            [1786,2043,1797,2012,1862,1987,1884,1993,1902,1997,1934,2035,1938,2054,1936,2083,1894,2132,1844,2133,1798,2102],
            [1794,2010,1844,1948,1862,1986,1797,2012],
            [1862,1986,1844,1947,1891,1905,1932,1936,1923,1984,1902,1995,1884,1993],
            [1891,1905,1928,1870,1938,1872,1960,1917,1932,1936],
            [1938,1857,2018,1766,2029,1770,2094,1849,2094,1866,2054,1925,2003,1937,1960,1917],
            [2029,1768,2100,1710,2157,1829,2126,1846,2095,1850],
            [2018,1766,2080,1694,2100,1710,2029,1768],
            [2126,1847,2157,1829,2140,1867],
            [2095,1851,2126,1847,2140,1867,2136,1883,2094,1865],
            [2094,1866,2135,1884,2104,1958,2077,1954,2054,1925],
            [2003,1937,2054,1925,2077,1954,2057,1998,2007,1998],
            [1932,1936,1960,1917,2003,1937,2007,1998,1994,2011,1952,2011,1923,1984],
            [2077,1955,2104,1959,2080,2019,2058,1998],
            [1995,2017,2007,1998,2057,1998,2080,2019,2054,2081,1996,2046],
            [1934,2035,1952,2011,1994,2011,1995,2046,1953,2064],
            [1904,1996,1923,1984,1951,2011,1934,2035],
            [1953,2064,1996,2046,2054,2081,2028,2150,1987,2160,1956,2152,1941,2085],
            [1987,2160,2028,2150,2013,2188],
            [1909,2201,1956,2153,1987,2160,2012,2188,1973,2284,1962,2284],
            [1890,2132,1956,2153,1909,2201,1890,2190],
            [1894,2130,1936,2085,1941,2085,1956,2152],
            [1795,2249,1804,2220,1845,2197,1890,2190,1909,2201,1962,2284,1961,2289,1884,2350,1880,2357,1818,2342],
            [1844,2133,1890,2132,1890,2190,1845,2197],
            [1884,2350,1962,2289,1922,2409,1916,2393,1884,2358],
            [1759,2437,1818,2342,1880,2354,1916,2393,1922,2415,1892,2500,1784,2500],
            [1647,2469,1759,2437,1784,2500,1650,2500],
            [1560,2415,1647,2469,1644,2487,1640,2500,1530,2500,1525,2449,1538,2429],
            [1517,2381,1535,2372,1560,2415,1538,2429,1525,2425],
            [1476,2352,1525,2301,1535,2372,1516,2381,1490,2377],
            [1467,2393,1490,2377,1517,2381,1526,2425,1508,2444,1494,2447,1481,2441],
            [1458,2372,1476,2353,1490,2377,1470,2388],
            [1444,2388,1458,2372,1470,2388,1467,2393],
            [1403,2433,1444,2388,1467,2393,1481,2441,1438,2465,1424,2460],
            [1438,2465,1481,2442,1494,2447,1498,2500,1442,2500],
            [1495,2447,1508,2444,1525,2449,1530,2500,1498,2500],
            [1405,2460,1424,2460,1438,2465,1442,2500,1405,2500]
        ];
        const enzymeShades = ['#e0b368','#e3b56c','#d9b06e','#e3b76e','#efbc6d','#e1b46f','#e0b36e','#dfac72','#d8b06c','#e0b56c','#e0b56c','#e0b56c','#e8b46e','#e8b46e','#dcaa68','#d7b06e','#e3b66e','#e0b56c','#e3b66f','#f0c470','#e0b56e','#ecbb6e','#e0b46a','#f3c678','#f0bf70','#dcab68','#dcaa6a','#eab270','#e3b86e','#dfb269','#e3b56a','#f0c46f','#e8b474','#dfae6e','#d3ae6a','#dfa86e','#e3bb72','#dcae6c','#dcaa66','#e4bd70'];

        const motilityCells = [
            [2140,1887,2230,1862,2294,1860,2388,1881,2432,1901,2500,1955,2500,2379,2470,2406,2328,2473,2292,2478,2108,2428,2048,2379,1986,2273],
            [2180,1784,2242,1766,2251,1794,2222,1823],
            [2242,1766,2268,1755,2284,1776,2278,1795,2251,1794],
            [2268,1755,2308,1743,2284,1776],
            [2284,1776,2308,1743,2346,1731,2425,1766,2435,1794,2416,1859,2388,1881,2294,1860,2278,1795],
            [2222,1823,2251,1794,2278,1795,2294,1860,2234,1862,2226,1854],
            [2178,1800,2222,1823,2227,1859,2140,1887],
            [2435,1794,2500,1795,2500,1877,2464,1894,2439,1887,2416,1859],
            [2425,1766,2444,1790,2435,1794],
            [2444,1775,2500,1790,2435,1794],
            [2388,1881,2416,1859,2439,1887,2432,1902],
            [2432,1902,2439,1887,2464,1894,2454,1916],
            [2454,1916,2464,1895,2500,1904,2500,1955],
            [2465,1894,2500,1877,2500,1904],
            [1962,2328,1986,2273,2048,2379,2032,2393],
            [2032,2393,2048,2379,2108,2428,2095,2454],
            [2095,2454,2108,2428,2292,2478,2288,2500,2192,2500,2122,2476],
            [2328,2473,2470,2406,2490,2444,2376,2500,2335,2500],
            [2470,2406,2500,2379,2500,2441,2490,2444],
            [2376,2500,2446,2467,2456,2492,2442,2500],
            [2452,2465,2500,2444,2500,2476,2460,2491],
            [2292,2478,2302,2478,2302,2500,2288,2500],
            [2302,2478,2328,2473,2335,2500,2302,2500],
            [2124,2479,2192,2500,2146,2500],
            [1952,2368,1978,2349,2052,2419,1984,2464],
            [1894,2500,1946,2368,1952,2368,1986,2460,1992,2481,1980,2500],
            [1986,2460,2052,2419,2140,2500,1998,2500,1992,2481],
            [1948,2368,1960,2333,1978,2349,1952,2368],
            [1980,2500,1992,2484,1998,2500],
            [2346,1731,2500,1680,2500,1790],
            [2456,2500,2500,2476,2500,2500]
        ];
        const motilityShades = ['#e01633','#d9163a','#e7193b','#e7193b','#e1183a','#e2193b','#e81c3c','#e11b3a','#e6183c','#e6183c','#df1a3a','#e8193c','#e01733','#e51a3a','#e81b3b','#e0173a','#df193d','#f01b36','#ea1a3a','#fb1424','#f0142a','#df1a3a','#e01a3a','#e81030','#d8203e','#d02047','#ea2840','#cd2040','#d0203f','#d63038','#b01a18'];

        const transcriptionCells = [
            [2028,1320,2442,984,2500,1010,2500,1338,2057,1383],
            [2057,1383,2500,1338,2500,1623,2208,1618,2112,1494,2052,1414],
            [2442,984,2500,936,2500,1010],
            [2000,1342,2028,1320,2057,1383,2052,1414],
            [1961,1410,1977,1400,2044,1392,2112,1494,2013,1566,1939,1514],
            [1970,1358,2000,1344,2008,1358,2044,1398,1977,1400,1970,1379],
            [1938,1392,1970,1366,1977,1400,1961,1410],
            [1884,1438,1938,1392,1961,1410,1939,1514,1916,1526,1884,1496],
            [1939,1514,2013,1566,2000,1606,1918,1526],
            [2013,1566,2112,1494,2208,1618,2194,1657,2178,1675,2124,1702,2104,1703,2072,1675,2000,1606],
            [2208,1618,2500,1623,2500,1680,2180,1782,2072,1675],
            [2194,1657,2208,1619,2230,1619,2230,1659],
            [2230,1619,2250,1621,2256,1654,2238,1667,2230,1659],
            [2250,1621,2302,1621,2304,1632,2264,1657,2256,1654],
            [2302,1622,2333,1622,2334,1637,2304,1632],
            [2161,1715,2194,1657,2230,1659,2238,1667,2254,1675,2264,1726,2254,1742,2214,1763,2172,1742],
            [2238,1667,2264,1657,2304,1632,2336,1637,2364,1675,2359,1719,2292,1742,2264,1726,2254,1675],
            [2338,1641,2346,1622,2392,1623,2402,1657,2394,1675,2406,1703,2360,1719,2364,1675],
            [2402,1657,2444,1642,2460,1651,2464,1683,2406,1703,2394,1675],
            [2392,1623,2444,1624,2444,1642,2402,1657],
            [2444,1624,2464,1624,2457,1650,2444,1642],
            [2464,1625,2500,1625,2500,1659,2464,1659,2458,1649],
            [2464,1659,2500,1659,2500,1680,2464,1683],
            [2146,1742,2161,1718,2174,1744,2144,1766],
            [2176,1750,2214,1763,2180,1776,2174,1766],
            [2214,1763,2254,1742,2290,1745,2250,1755],
            [2104,1703,2124,1702,2178,1675,2161,1715,2144,1742]
        ];
        const transcriptionShades = ['#4a50c2','#4e55c6','#5246bc','#4b4ebc','#6058c8','#5350bf','#5450c0','#5a4fc0','#6158c0','#5a55ca','#4550c4','#4348b8','#4548bd','#4a58d0','#4a55cc','#4b53cc','#3f4fc0','#3f4cbe','#3f4cbe','#404ab8','#4450c0','#4350c2','#4450c4','#4a5ad8','#4050c0','#4048bc','#6058c8'];

        const translationCells = [
            [580,262,628,125,844,12,952,45,1029,483,978,522,930,544,894,555],
            [658,33,721,65,726,74,628,125],
            [662,12,736,12,721,65,658,33],
            [736,12,752,12,769,51,726,72,721,65],
            [752,12,844,12,769,51],
            [847,12,948,12,952,45],
            [894,555,930,544,927,586,911,580],
            [930,544,978,522,1002,550,1005,569,958,615,927,586],
            [978,522,1006,502,1036,518,1039,533,1022,550,1002,550],
            [1006,502,1029,483,1036,518],
            [948,12,1222,12,1276,142,1268,199,1164,272,1076,334,1040,325,1026,318],
            [1222,12,1360,12,1336,138,1276,142],
            [1276,142,1336,138,1314,230,1268,199],
            [1040,325,1076,334,1085,355,1029,406,1018,407,1006,347],
            [1029,406,1085,355,1177,423,1170,492,1103,513],
            [1018,407,1029,406,1103,513,1039,533],
            [1177,423,1271,420,1260,466,1170,492],
            [1076,334,1268,199,1314,230,1287,350,1271,420,1177,423,1085,355],
            [1364,20,1422,31,1448,106,1353,142,1338,138],
            [1366,12,1432,12,1422,31,1364,20],
            [1432,12,1508,12,1515,83,1466,114,1448,106,1422,31],
            [1508,12,1601,12,1604,60,1577,95,1515,83],
            [1601,12,1704,12,1704,80,1698,84,1604,60],
            [1704,12,1797,12,1772,79,1704,80],
            [1797,12,1876,12,1901,105,1846,148,1772,79],
            [1876,12,1976,12,1982,89,1901,105],
            [1976,12,2076,12,2083,64,1982,88],
            [1982,89,2083,64,2096,160,1993,155],
            [1901,105,1982,89,1993,155,1958,191,1887,132],
            [1958,191,1993,155,2096,160,2113,272,2033,319,1952,233],
            [2033,319,2113,272,2124,347,2108,358],
            [2005,366,2033,319,2108,358,2112,374,2058,440],
            [1846,148,1884,133,1958,191,1952,233,1916,251,1884,240,1826,236],
            [1826,236,1884,240,1952,233,2033,319,2005,366,1905,370,1866,315],
            [1864,417,1905,370,2005,366,2058,440,1960,560,1868,497],
            [1826,389,1844,342,1866,315,1905,370,1884,390,1864,417],
            [1782,546,1869,497,1884,507,1960,560,1884,660,1866,677,1786,634],
            [1706,465,1720,419,1826,389,1864,417,1868,497,1782,546],
            [1656,367,1720,419,1706,465,1622,455],
            [1684,245,1816,246,1866,315,1826,389,1720,419,1656,367,1642,339,1662,291],
            [1648,182,1698,84,1772,79,1846,148,1826,236,1816,246,1684,245,1666,211],
            [1578,95,1604,60,1698,84,1647,182,1611,174],
            [1466,114,1515,83,1577,95,1612,174,1524,241,1499,235,1473,204],
            [1353,142,1448,106,1466,114,1473,204,1391,231],
            [1338,138,1353,142,1391,231,1315,240],
            [1391,232,1473,204,1499,235,1444,264,1412,256],
            [1315,240,1391,232,1412,256,1444,264,1414,366,1366,387,1288,350],
            [1444,264,1499,235,1524,241,1611,174,1648,182,1684,245,1662,291,1642,334,1586,327,1568,323,1544,278],
            [1414,366,1444,264,1544,278,1568,323,1519,398,1452,402],
            [1519,398,1568,323,1642,334,1656,367,1622,455,1580,467,1538,442],
            [1452,402,1519,398,1538,442,1522,470,1500,478,1442,445],
            [1366,387,1414,366,1452,402,1442,445,1422,458,1357,425],
            [1288,350,1366,387,1357,425,1275,407],
            [1275,407,1357,425,1359,433,1306,510,1260,466],
            [1359,433,1422,458,1424,517,1365,568,1310,515],
            [1422,458,1442,445,1500,478,1495,531,1487,536,1424,517],
            [1500,478,1522,470,1551,490,1514,540,1495,531],
            [1522,470,1538,442,1580,467,1551,490],
            [1487,536,1495,531,1514,540,1508,562,1497,562],
            [1365,568,1424,517,1487,536,1497,562,1422,626],
            [1422,626,1497,562,1509,562,1551,689,1513,716],
            [1509,562,1514,540,1551,490,1580,467,1622,455,1706,465,1782,546,1786,634,1742,702,1715,718,1620,731,1599,722,1551,689],
            [1513,716,1551,689,1599,722,1566,769],
            [1566,769,1599,722,1620,731,1603,777,1576,778],
            [1576,778,1603,777,1606,809,1602,813],
            [1603,777,1620,731,1715,718,1747,822,1736,837,1626,830,1606,809],
            [1715,718,1742,702,1808,748,1747,822],
            [1742,702,1786,634,1866,677,1808,748],
            [1024,550,1039,534,1092,518,1118,576,1098,613],
            [958,617,1024,551,1098,613,1098,622,1032,687],
            [1092,518,1169,494,1173,550,1119,577],
            [1169,494,1260,466,1310,515,1256,582,1246,594,1173,550],
            [1098,613,1119,577,1173,550,1246,594,1253,631,1224,689,1171,698],
            [1032,687,1098,623,1171,698,1119,769],
            [1119,769,1171,698,1224,689,1280,754,1270,837,1286,856,1262,901,1190,837],
            [1256,582,1310,517,1394,600,1368,643,1256,633,1246,594],
            [1256,633,1368,643,1383,683,1375,720,1280,752,1256,726,1224,689,1253,631],
            [1394,600,1450,656,1395,685,1383,683,1368,643],
            [1394,686,1450,656,1496,702,1464,764,1415,765,1387,726],
            [1383,684,1394,687,1387,727,1375,721],
            [1464,764,1496,702,1542,748,1497,782],
            [1497,782,1542,748,1602,814,1578,837,1559,856,1516,848],
            [1384,837,1415,765,1464,764,1497,782,1516,848,1455,915,1418,915,1375,856],
            [1280,754,1375,721,1387,726,1415,765,1384,837,1375,856,1286,856,1270,837],
            [1262,901,1286,856,1375,856,1418,915,1391,969,1354,991],
            [1455,915,1516,848,1559,857,1596,905,1504,980],
            [1559,856,1578,837,1602,814,1626,830,1596,905],
            [1391,969,1418,915,1455,915,1504,980,1443,1028],
            [1354,991,1391,969,1443,1028,1416,1051,1412,1056],
            [1597,906,1646,947,1498,1130,1416,1051],
            [1492,1000,1567,932,1614,966,1618,981,1558,1051,1500,1027],
            [1567,932,1596,906,1634,941,1614,966],
            [1614,966,1634,943,1644,949,1618,981],
            [1500,1027,1558,1051,1528,1092,1503,1087,1490,1077],
            [1460,1027,1500,1027,1490,1077,1465,1069],
            [1430,1048,1460,1027,1465,1069,1447,1081],
            [1447,1081,1465,1069,1490,1077,1472,1104],
            [1472,1104,1492,1082,1512,1114,1498,1130],
            [1492,1082,1503,1087,1527,1092,1512,1114],
            [1460,1021,1492,1000,1500,1025],
            [1597,906,1622,837,1736,837,1646,947],
            [1626,904,1644,869,1672,870,1688,893,1650,938,1634,930],
            [1672,837,1738,837,1702,877,1676,869],
            [1626,837,1658,837,1658,856,1644,866,1618,853],
            [1600,905,1618,853,1644,869,1626,904],
            [1598,906,1626,904,1634,932,1612,915]
        ];
        const translationShades = ['#5c78de','#5470ee','#5a78ee','#5078f5','#5470e0','#5672de','#4c72d6','#506edb','#4d72d8','#5478df','#5d69e8','#5a68ec','#5560e5','#5e62e0','#5260e2','#5260e2','#5360e6','#5764ec','#5f72f2','#5c70f0','#6878f8','#5570ee','#6678f8','#5a68ec','#5a74f0','#5865ea','#5a70ee','#5a6cee','#5a66e8','#5a68e8','#5e70ee','#5c6ce8','#6870ff','#5d69ec','#5b6aec','#6874f8','#6a72fb','#5f6cf0','#636ff5','#6a72fb','#6877f8','#5a6aec','#5f74ee','#6878f8','#6070f0','#5b6eec','#6470fa','#5c70ee','#5570e8','#5c6ee8','#6878fa','#6272f0','#5a68e8','#5a6af0','#5a68ea','#6a6ffc','#6870ff','#6070f0','#6268f8','#6572f5','#5a6eeb','#5a6eec','#6870ff','#5870ee','#6272f0','#6575f8','#6470fa','#6772fc','#4f72e0','#4a6ed5','#4a70d8','#5078dd','#4c75d9','#4a75db','#4f72da','#4a6ed2','#5078e0','#4f78e0','#4f75d8','#5585ea','#4f78dd','#5070ce','#5578e5','#4f78d8','#5078dd','#4c74d6','#4c74d4','#5578e5','#5078e0','#4f6bcc','#5a73d0','#5672cc','#4c70c8','#4f6bcc','#4f6ed2','#4e60c8','#5670cc','#5068c8','#4f6bc8','#5468cc','#4f78ee','#5580f8','#5a80fd','#4f72ee','#5078ee','#5078f0'];

        const maintenanceCells = [
            [2086,56,2096,53,2164,112,2143,135,2096,134],
            [2096,53,2135,12,2190,52,2188,93,2164,113],
            [2080,12,2128,12,2096,53,2084,56],
            [2144,12,2208,12,2192,52],
            [2208,12,2346,12,2356,139,2292,190,2238,142,2188,93,2192,52],
            [2347,12,2484,12,2405,148,2356,139],
            [2484,12,2500,16,2500,187,2425,174,2405,148],
            [2356,139,2405,148,2425,174,2412,247,2394,255,2360,251,2292,190],
            [2425,174,2500,187,2500,219,2412,247],
            [2143,136,2188,93,2238,142,2164,195,2140,184],
            [2164,195,2238,142,2292,190,2360,251,2352,294,2330,307,2296,302,2296,240,2265,262,2190,291,2166,235],
            [2296,197,2332,230,2360,251,2352,294,2330,307,2296,302],
            [2140,243,2166,235,2190,272,2190,291,2140,283],
            [2140,184,2164,195,2166,235,2140,240],
            [2098,141,2142,136,2133,283,2120,294,2113,272],
            [2432,293,2426,246,2500,220,2500,326,2479,334],
            [2360,262,2394,255,2426,245,2432,293,2354,296],
            [2354,312,2432,293,2479,334,2462,391,2384,378],
            [2479,335,2500,328,2500,398,2462,391],
            [2133,283,2191,291,2152,371,2127,359],
            [2191,291,2312,305,2383,378,2350,486,2226,418,2152,371],
            [2312,305,2352,311,2384,378],
            [2384,378,2413,384,2419,403,2380,444,2366,441,2350,486],
            [2413,384,2462,392,2492,411,2419,403],
            [2380,444,2419,403,2476,395,2500,417,2500,497,2441,529,2390,513,2386,490],
            [2366,441,2380,444,2386,490,2373,499,2352,489],
            [2441,529,2500,499,2500,576,2450,545]
        ];
        const maintenanceShades = ['#a5cefa','#9cc4f5','#8fbdf0','#88c0f5','#8cc2f5','#82c2ec','#8cc8f2','#7bbbe5','#80b8dc','#8ad0fd','#98d3fd','#9ad6ff','#8fd0fb','#8fd0fb','#82c4f0','#a5c8fc','#a8c5fa','#92bef5','#98b5e8','#88bbff','#87b2ff','#85c0f8','#78bbf8','#78bbf8','#7cb4f8','#78bbf8','#80b8f8'];

        const foldingCells = [
            [1892,649,2234,692,2350,490,2226,419,2127,363,1884,660],
            [2074,427,2127,363,2226,419,2156,497,2123,494],
            [2156,497,2226,419,2348,489,2284,601,2216,601,2156,542],
            [2056,441,2074,427,2123,494,2105,515,2054,490],
            [2105,515,2123,494,2156,497,2156,542,2124,546],
            [2026,486,2056,443,2054,490],
            [1932,601,2026,486,2054,490,2105,515,2124,546,2082,673,1958,657],
            [2082,673,2124,546,2156,542,2215,601,2215,626,2185,685],
            [2215,601,2276,602,2284,601,2256,650,2215,626],
            [2185,685,2215,626,2256,650,2234,692],
            [1892,649,1932,601,1958,657],
            [2278,617,2302,577,2343,601,2338,630,2319,641],
            [2302,577,2344,506,2380,524,2360,597,2343,601],
            [2350,490,2373,499,2389,515,2380,524,2344,506],
            [2360,597,2380,524,2406,517,2450,545,2443,590,2414,619,2394,626],
            [2338,630,2343,601,2360,597,2394,626,2371,650],
            [2450,545,2500,577,2500,587,2456,602,2443,590],
            [2414,619,2443,590,2456,602,2451,620],
            [2456,602,2500,587,2500,651,2451,620],
            [2278,617,2319,641,2317,675,2264,682,2249,667],
            [2319,641,2338,631,2371,650,2355,697,2345,700,2317,675],
            [2264,682,2317,675,2345,700,2297,761,2252,710],
            [2356,697,2371,650,2394,626,2414,619,2451,620,2500,651,2500,756,2472,769],
            [2297,761,2345,700,2356,697,2472,769,2469,806,2394,869,2362,837],
            [2472,769,2500,756,2500,817,2469,806],
            [2469,806,2500,817,2500,936,2470,950,2394,869],
            [2046,702,2058,672,2234,692,2362,837,2470,959,2396,1019,2196,837],
            [1930,757,2046,702,2196,837,2396,1019,2130,1235,1884,1027,1806,965,1847,857,1884,826],
            [1806,965,2130,1235,1936,1392],
            [1884,705,1899,708,1930,757,1884,826,1848,857],
            [1911,652,2058,672,2046,702,1930,757,1899,708],
            [1892,649,1911,652,1899,708,1884,705,1848,857,1787,855,1764,822,1759,809],
            [1736,837,1759,809,1764,822,1787,855,1848,857,1806,965,1936,1392,1848,1464,1500,1133],
            [1646,952,1750,851,1766,848,1804,965,1726,1016,1686,1009],
            [1592,1021,1646,953,1686,1009,1622,1043],
            [1726,1016,1805,969,1840,1085,1795,1105],
            [1622,1043,1686,1009,1726,1016,1795,1105,1792,1141,1716,1208,1674,1208,1648,1197,1613,1163,1599,1124],
            [1539,1085,1592,1021,1622,1043,1599,1124,1567,1120],
            [1512,1120,1539,1087,1567,1120,1536,1145],
            [1502,1131,1512,1120,1536,1145,1524,1156],
            [1536,1145,1567,1120,1599,1124,1613,1163,1572,1200,1538,1169],
            [1572,1200,1613,1163,1648,1197,1613,1239],
            [1613,1239,1648,1197,1674,1208,1636,1259],
            [1636,1259,1674,1208,1716,1208,1738,1304,1712,1320,1704,1323],
            [1716,1208,1792,1141,1848,1149,1868,1157,1883,1227,1883,1302,1774,1328,1753,1318,1738,1304],
            [1795,1105,1840,1085,1861,1157,1848,1149,1792,1141],
            [1774,1328,1884,1300,1899,1295,1904,1411,1856,1433,1796,1422,1764,1390,1764,1368],
            [1899,1295,1935,1392,1924,1400,1904,1411]
        ];
        const foldingShades = ['#70b5f0','#78bcf8','#70a8dd','#6fb0ef','#6db0e8','#60a8e0','#70b5f0','#6ca8e8','#6aa5da','#70b5f0','#62a8e2','#70b4f4','#72b4f3','#72b0ea','#7cb2fb','#70b0f0','#70b0ea','#70b0f0','#6cb0e8','#72b2ec','#70aeea','#70b0ea','#7cb4fc','#7cb4f8','#72b2f0','#78bbf8','#5e9ad8','#6ca6e6','#5e9ad8','#6ca6e6','#5e9ad8','#6ca6e6','#6a9efc','#6ba0fa','#7aa8ff','#6a9dfa','#6a9cf8','#6ea2fb','#6a96f0','#6ea2fb','#6a9efc','#6492ea','#6a9efc','#6ea2fb','#6292f0','#6a9cf8','#6a9efc','#6ba2ff'];

        // dividing lines between the groups of cells
        const mediumLines = [
            [948,12,1039,533,958,615],[1039,533,1260,466,1364,12],[1260,466,1626,830,1736,837],[1626,830,1597,906,1416,1051],[1597,906,1646,947],
            [2143,136,2188,93,2192,52,2208,12],[2144,12,2192,52],[2098,134,2143,136,2133,283],[2133,283,2352,311,2384,378,2350,486],
            [2188,93,2292,190,2360,251,2394,255,2500,219],[2360,251,2352,311],[2384,378,2500,398],[2441,529,2500,499],
            [1892,649,2234,692,2350,490],[2234,692,2470,959],[1759,809,1936,1392],
            [12,1520,324,1619],[540,1239,594,1250],[912,581,594,1250,668,1432,498,1625],[668,1432,1356,1728,1412,1724,1748,1376],[1356,1728,1010,2079],[1412,1724,1675,2130],
            [308,1623,506,2305],[12,2393,208,2452,400,2364,536,2324,720,2404,980,2246,1064,2132],[208,2452,214,2500],[720,2404,722,2500],[980,2246,1046,2500],[1339,2375,1280,2500],
            [2000,1344,2208,1618,2500,1623],[2208,1618,2180,1675],[2122,2476,2192,2500],[2376,2500,2500,2441],[2442,984,2500,1010],[2456,2500,2500,2476]
        ];
        const heavyLines = [
            [2076,12,2127,359,1500,1133],[2127,359,2500,577],[1848,1464,2500,936],[2346,1731,2500,1790],[1960,2332,2144,2500],[58,489,12,529]
        ];
        const majorLines = [
            [566,12,619,133],[662,12,580,262,58,489,12,449],
            [580,262,912,581,2180,1782],[912,581,658,740,12,555],[658,740,456,1589,12,1694],[456,1589,1403,2427,1408,2500],
            [1403,2427,2080,1694],[2180,1782,1892,2500],[2180,1782,2500,1680]
        ];
        const frameLine = [6,6,2506,6,2506,2506,6,2506,6,6];

        const labelLines = ['Translation','Biosynthesis','Central','Carbon','Metabolism','Membrane','Transport','Signal','Transduction','Energy','Metabolism','Folding,','Sorting and','Degradation','DNA','Maintenance','Transcription','Other','Enzymes','Cell','Motility','Cell','Structure','Cytoskeleton','Vesicular','transport','Drug','resistance','Signaling','Molecules','and','Interaction'];
        const labelX = [1400,1112,436,436,435,277,276,272,270,498,494,2067,2068,2068,2313,2305,2229,1797,1795,2278,2287,2451,2455,1995,2485,2485,27,26,618,618,618,618];
        const labelY = [340,1567,2149,2257,2367,1089,1164,193,254,529,594,874,940,1005,235,278,1434,2251,2304,2192,2276,1732,1747,2471,2494,2500,490,497,31,38,46,53];
        const labelSize = [171,145,108.5,108.5,108.5,75,75,61,61,66,66,65,65,65,43,43,59.5,52.5,52.5,85,85,16,16,19,7,7,6,6,8,8,8,8];

        function toPoints(list) {
            const points = [];
            for (let i = 0; i < list.length; i += 2) {
                points.push({x: list[i], y: list[i + 1]});
            }
            return points;
        }

        const painted = [];
        function addCells(cells, shades) {
            cells.forEach((cell, i) => {
                const points = toPoints(cell);
                points.push(points[0]);
                painted.push({
                    data: points,
                    showLine: true,
                    tension: 0,
                    pointRadius: 0,
                    borderColor: '#000',
                    borderWidth: 1.1,
                    backgroundColor: shades[i] || '#888',
                    fill: 'shape'
                });
            });
        }
        function addLines(lines, width) {
            lines.forEach(line => {
                painted.push({
                    data: toPoints(line),
                    showLine: true,
                    tension: 0,
                    pointRadius: 0,
                    borderColor: '#000',
                    borderWidth: width,
                    borderJoinStyle: 'round',
                    fill: false
                });
            });
        }

        addCells(regionCells, regionShades);
        addCells(signalCells, signalShades);
        addCells(energyCells, energyShades);
        addCells(membraneCells, membraneShades);
        addCells(stripCells, stripShades);
        addCells(smallOrangeCells, smallOrangeShades);
        addCells(yellowCells, yellowShades);
        addCells(darkYellowCells, darkYellowShades);
        addCells(amberCells, amberShades);
        addCells(orangeCells, orangeShades);
        addCells(carbonCells, carbonShades);
        addCells(enzymeCells, enzymeShades);
        addCells(motilityCells, motilityShades);
        addCells(transcriptionCells, transcriptionShades);
        addCells(translationCells, translationShades);
        addCells(maintenanceCells, maintenanceShades);
        addCells(foldingCells, foldingShades);
        addLines(mediumLines, 2.6);
        addLines(heavyLines, 4.5);
        addLines(majorLines, 6.5);
        addLines([frameLine], 12);

        const labelPlugin = {
            id: 'groupLabels',
            afterDatasetsDraw(chart) {
                const ctx = chart.ctx;
                ctx.save();
                ctx.textAlign = 'center';
                ctx.textBaseline = 'alphabetic';
                labelLines.forEach((text, i) => {
                    const px = chart.scales.x.getPixelForValue(labelX[i]);
                    const py = chart.scales.y.getPixelForValue(labelY[i]);
                    const size = labelSize[i];
                    const drop = Math.max(0.5, size * 0.01);
                    ctx.font = 'bold ' + size + 'px "DejaVu Sans"';
                    ctx.fillStyle = 'rgba(0,0,0,0.45)';
                    ctx.fillText(text, px + drop, py + drop);
                    ctx.fillStyle = '#fff';
                    ctx.fillText(text, px, py);
                });
                ctx.restore();
            }
        };

        // chart.js paints the first dataset last, so the list is reversed
        new Chart(document.getElementById('proteomap').getContext('2d'), {
            type: 'scatter',
            data: {datasets: painted.slice().reverse()},
            plugins: [labelPlugin],
            options: {
                responsive: false,
                animation: false,
                layout: {padding: 0},
                plugins: {
                    legend: {display: false},
                    title: {display: false},
                    tooltip: {enabled: false}
                },
                scales: {
                    x: {type: 'linear', min: 0, max: 2512, display: false},
                    y: {type: 'linear', min: 0, max: 2512, reverse: true, display: false}
                }
            }
        });
    </script>
</body>
</html>
